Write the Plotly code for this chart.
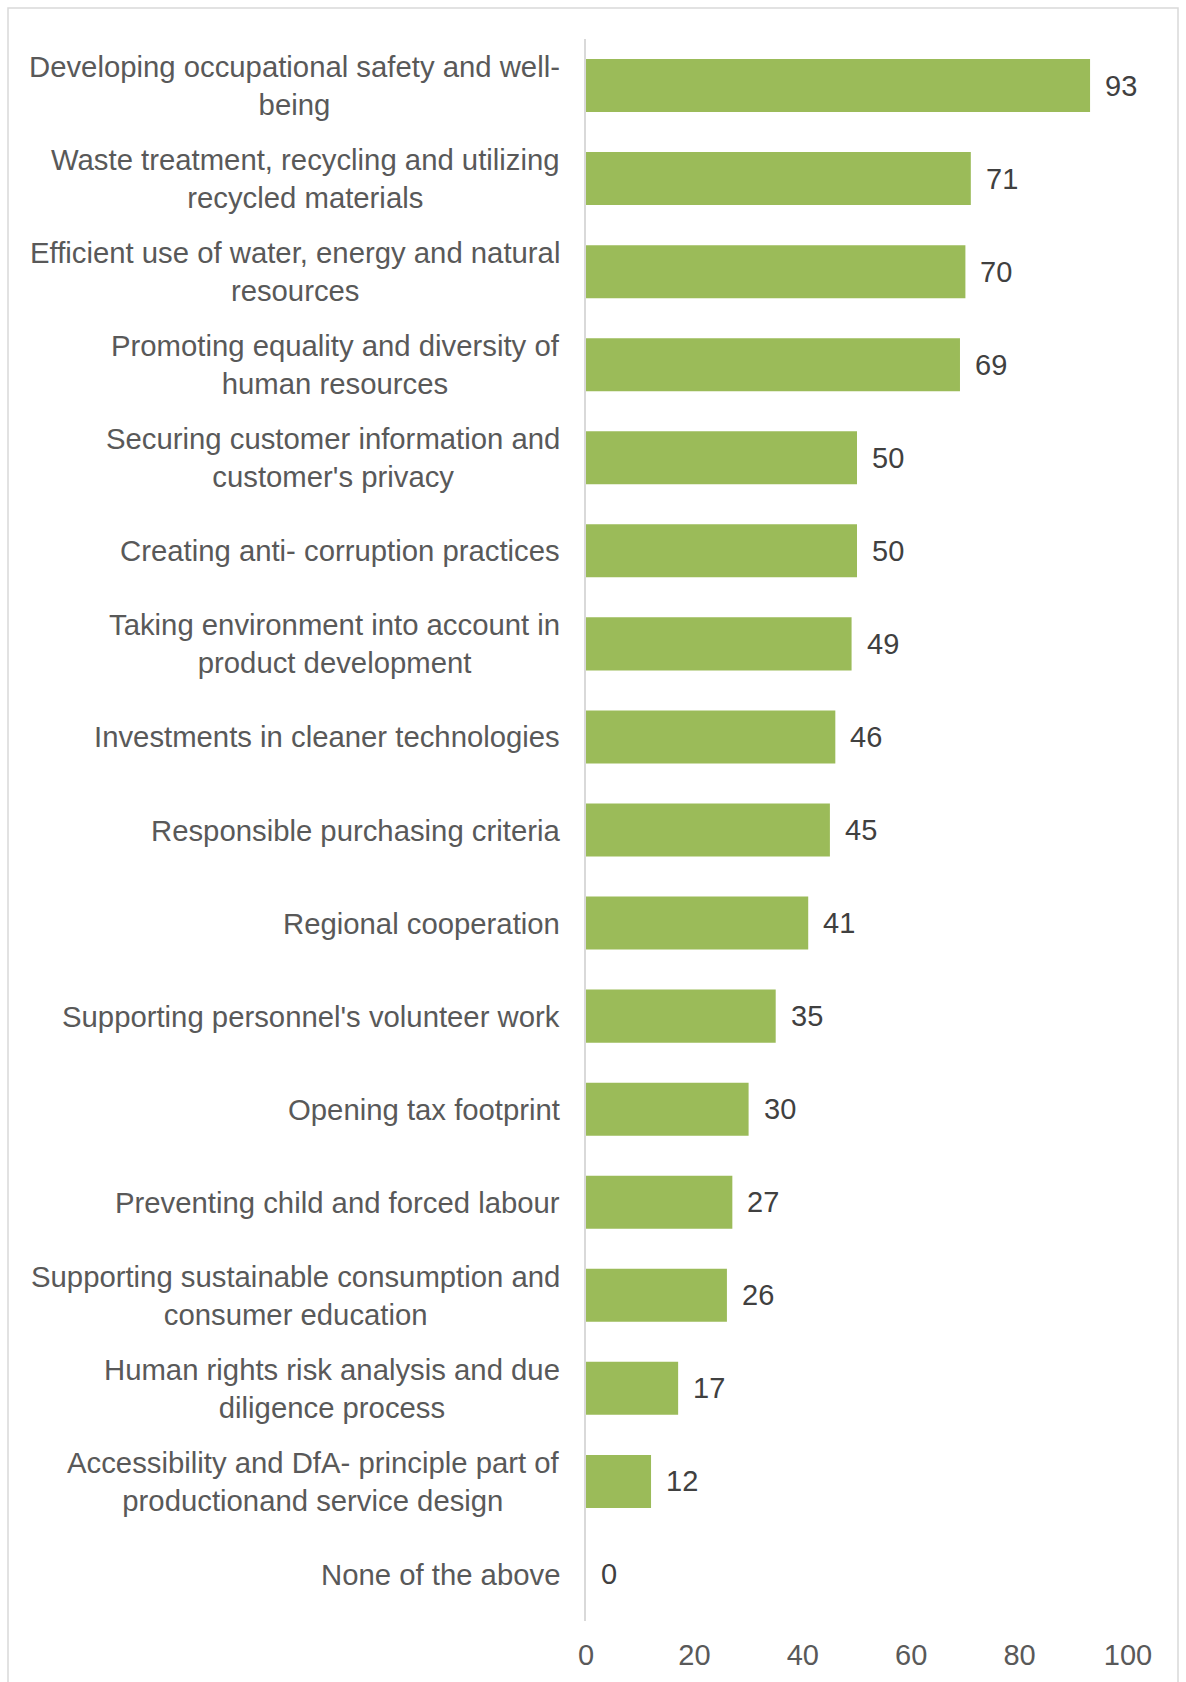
import plotly.graph_objects as go

# Share of respondents (%) per sustainability theme
categories = [
    "Developing occupational safety and well-<br>being",
    "Waste treatment, recycling and utilizing<br>recycled materials",
    "Efficient use of water, energy and natural<br>resources",
    "Promoting equality and diversity of<br>human resources",
    "Securing customer information and<br>customer's privacy",
    "Creating anti- corruption practices",
    "Taking environment into account in<br>product development",
    "Investments in cleaner technologies",
    "Responsible purchasing criteria",
    "Regional cooperation",
    "Supporting personnel's volunteer work",
    "Opening tax footprint",
    "Preventing child and forced labour",
    "Supporting sustainable consumption and<br>consumer education",
    "Human rights risk analysis and due<br>diligence process",
    "Accessibility and DfA- principle part of<br>productionand service design",
    "None of the above",
]
values = [93, 71, 70, 69, 50, 50, 49, 46, 45, 41, 35, 30, 27, 26, 17, 12, 0]
x_ticks = [0, 20, 40, 60, 80, 100]

FONT = "Arial, 'Liberation Sans', sans-serif"
LABEL_GREY = "#595959"
VALUE_GREY = "#404040"
BAR_GREEN = "#9BBB59"
LINE_GREY = "#D9D9D9"

W, H = 1186, 1682
ML, MR, MT, MB = 586, 58, 39, 61
plot_w = W - ML - MR
plot_h = H - MT - MB

fig = go.Figure(
    go.Bar(
        x=values,
        y=categories,
        orientation="h",
        marker=dict(color=BAR_GREEN, line=dict(width=0)),
        hoverinfo="skip",
    )
)

annotations = []
# category labels, centred lines, right-aligned block
for cat in categories:
    annotations.append(dict(
        x=0, y=cat, xref="x", yref="y",
        text=cat, showarrow=False,
        xanchor="right", yanchor="middle", align="center",
        xshift=-24,
        font=dict(family=FONT, size=29.3, color=LABEL_GREY),
    ))
# value labels at the bar ends
for cat, v in zip(categories, values):
    annotations.append(dict(
        x=v, y=cat, xref="x", yref="y",
        text=str(v), showarrow=False,
        xanchor="left", yanchor="middle",
        xshift=13,
        font=dict(family=FONT, size=29, color=VALUE_GREY),
    ))

# outer chart frame
frame = dict(
    type="rect", xref="paper", yref="paper",
    x0=(8 - ML) / plot_w, x1=(1178 - ML) / plot_w,
    y0=(MT + plot_h - (H + 20)) / plot_h, y1=(MT + plot_h - 8) / plot_h,
    line=dict(color=LINE_GREY, width=1.5),
    fillcolor="rgba(0,0,0,0)",
    layer="below",
)

fig.update_layout(
    width=W, height=H,
    margin=dict(l=ML, r=MR, t=MT, b=MB, pad=0),
    paper_bgcolor="white",
    plot_bgcolor="white",
    bargap=0.43,
    showlegend=False,
    font=dict(family=FONT, size=29, color=LABEL_GREY),
    annotations=annotations,
    shapes=[frame],
    xaxis=dict(
        range=[0, 100],
        tickvals=x_ticks,
        ticktext=[str(t) for t in x_ticks],
        showgrid=False, zeroline=False, showline=False,
        ticks="",
        ticklabelstandoff=14,
        tickfont=dict(family=FONT, size=29, color=LABEL_GREY),
        fixedrange=True,
    ),
    yaxis=dict(
        type="category",
        categoryorder="array",
        categoryarray=categories,
        autorange="reversed",
        showticklabels=False,
        showgrid=False, zeroline=False,
        showline=True, linecolor=LINE_GREY, linewidth=2,
        ticks="",
        fixedrange=True,
    ),
)

fig.write_html("out.html")
